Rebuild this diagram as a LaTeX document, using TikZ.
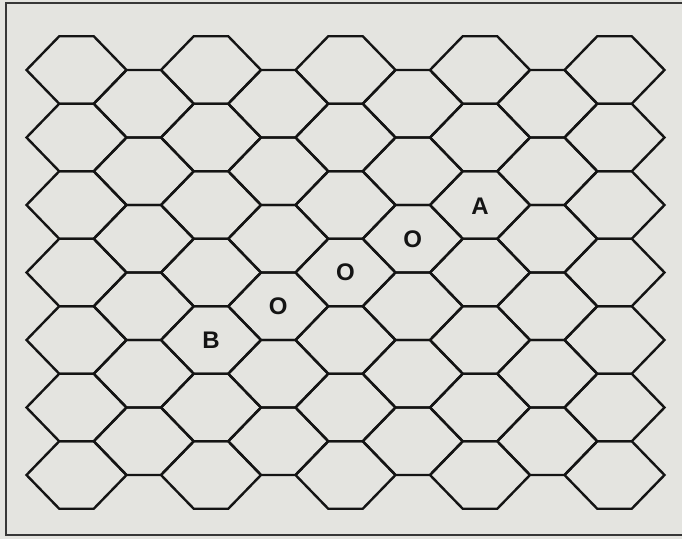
\documentclass[tikz,border=0pt]{standalone}
\usepackage{fontspec}
\newfontfamily\cellfont{Liberation Sans}
\usepackage{xcolor}
\definecolor{paper}{HTML}{E4E4E0}
\definecolor{ink}{HTML}{141414}

\begin{document}
\begin{tikzpicture}[
        x=0.75pt, y=-0.75pt,
        hex_line/.style={draw=ink, line width=1.8pt, line join=miter},
        frame_line/.style={draw=ink!85, line width=1.4pt},
        cell_label/.style={font=\cellfont\bfseries\fontsize{18}{21}\selectfont, text=ink, inner sep=0pt}
    ]

    % Paper
    \fill[paper] (0,0) rectangle (682,539);
    \useasboundingbox (0,0) rectangle (682,539);

    % Frame
    \draw[frame_line] (682,3) -- (6,3) -- (6,535) -- (682,535);

    % Hex grid (odd columns 7 cells, even columns 6 cells)
    \foreach \c in {0,2,4,6,8}
        \foreach \r in {0,...,6}
            \draw[hex_line] ({76.5+67.25*\c},{70+67.5*\r}) +(-50,0) -- +(-17.25,-33.75) -- +(17.25,-33.75) -- +(50,0) -- +(17.25,33.75) -- +(-17.25,33.75) -- cycle;
    \foreach \c in {1,3,5,7}
        \foreach \r in {0,...,5}
            \draw[hex_line] ({76.5+67.25*\c},{103.75+67.5*\r}) +(-50,0) -- +(-17.25,-33.75) -- +(17.25,-33.75) -- +(50,0) -- +(17.25,33.75) -- +(-17.25,33.75) -- cycle;

    % Path from B to A
    \node[cell_label] (cellA) at (480,206) {A};
    \node[cell_label] (cellO1) at (412.75,238.75) {O};
    \node[cell_label] (cellO2) at (345.5,272.5) {O};
    \node[cell_label] (cellO3) at (278.25,306.25) {O};
    \node[cell_label] (cellB) at (211,340) {B};

\end{tikzpicture}
\end{document}
